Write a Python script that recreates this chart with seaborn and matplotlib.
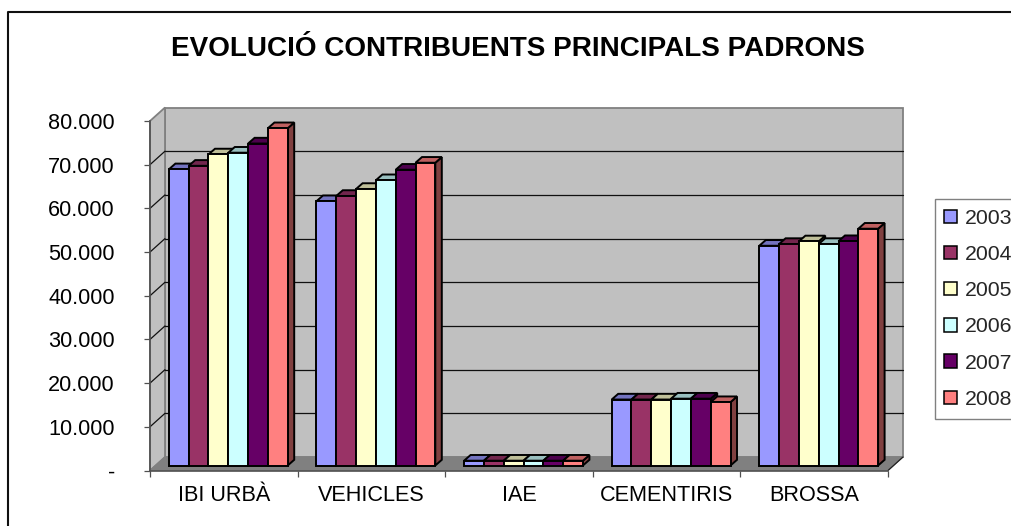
import matplotlib
matplotlib.use("Agg")
import matplotlib.pyplot as plt
from matplotlib.patches import Polygon
from matplotlib.lines import Line2D
from matplotlib.colors import to_rgb
import pandas as pd
import seaborn as sns

categories = ["IBI URBÀ", "VEHICLES", "IAE", "CEMENTIRIS", "BROSSA"]
years = ["2003", "2004", "2005", "2006", "2007", "2008"]
v2003 = [67800, 60500, 1100, 15100, 50300]
v2004 = [68600, 61700, 1100, 15100, 50700]
v2005 = [71200, 63300, 1100, 15100, 51300]
v2006 = [71600, 65300, 1100, 15300, 50700]
v2007 = [73700, 67700, 1100, 15300, 51350]
v2008 = [77200, 69300, 1100, 14500, 54200]
colors = ["#9999FF", "#993366", "#FFFFCC", "#CCFFFF", "#660066", "#FF8080"]
ytick_values = [0, 10000, 20000, 30000, 40000, 50000, 60000, 70000, 80000]
ytick_labels = ["-", "10.000", "20.000", "30.000", "40.000", "50.000", "60.000", "70.000", "80.000"]
title = "EVOLUCIÓ CONTRIBUENTS PRINCIPALS PADRONS"

W, H = 1012, 526
sns.set_style("white")
plt.rcParams["font.family"] = ["Liberation Sans", "DejaVu Sans"]

series = [v2003, v2004, v2005, v2006, v2007, v2008]
df = pd.DataFrame(
    [{"cat": c, "year": y, "value": s[i]}
     for y, s in zip(years, series) for i, c in enumerate(categories)]
)

fig = plt.figure(figsize=(W / 100, H / 100), dpi=100, facecolor="white")
L, R, T, B = 150.0, 888.0, 121.0, 470.5
ax = fig.add_axes([L / W, 1 - B / H, (R - L) / W, (B - T) / H])

BAR_LW = 1.4
sns.barplot(data=df, x="cat", y="value", hue="year", hue_order=years, order=categories,
            palette=colors, width=0.805, gap=0, saturation=1, errorbar=None,
            edgecolor="black", linewidth=BAR_LW, ax=ax)
ax.set_xlim(-0.5, 4.5)
ax.set_ylim(0, 80000)
ax.set_xlabel("")
ax.set_ylabel("")
ax.patch.set_alpha(0)

xpp = 5 / (R - L)      # category units per pixel
ypp = 80000 / (B - T)  # value units per pixel


def shade(c, f):
    return tuple(x * f for x in to_rgb(c))


# walls and floor, in the axes' own scales
wx, wy = 15 * xpp, 13.5 * ypp
x0, x1 = -0.5, 4.5
wall = "#C0C0C0"
edge = "#808080"
ax.add_patch(Polygon([(x0 + wx, wy), (x1 + wx, wy), (x1 + wx, 80000 + wy), (x0 + wx, 80000 + wy)],
                     fc=wall, ec=edge, lw=1.3, clip_on=False, zorder=1))
ax.add_patch(Polygon([(x0, 0), (x0 + wx, wy), (x0 + wx, 80000 + wy), (x0, 80000)],
                     fc=wall, ec=edge, lw=1.3, clip_on=False, zorder=1))
ax.add_patch(Polygon([(x0, 0), (x1, 0), (x1 + wx, wy), (x0 + wx, wy)],
                     fc="#808080", ec="#808080", lw=0.8, clip_on=False, zorder=1.5))
ax.plot([x1, x1 + wx], [0, wy], color="#202020", lw=0.9, clip_on=False, zorder=1.6)
for v in ytick_values[1:-1]:
    ax.plot([x0 + wx, x1 + wx], [v + wy, v + wy], color="#101010", lw=0.9, clip_on=False, zorder=2)
    ax.plot([x0, x0 + wx], [v, v + wy], color="#101010", lw=0.9, clip_on=False, zorder=2)

# 3D bars: front faces come from seaborn, shifted into the depth of the box
ox, oy = 4.5 * xpp, 5.0 * ypp
dx, dy = 6.5 * xpp, 5.7 * ypp
bars = sorted([p for c in ax.containers for p in c], key=lambda p: p.get_x())
for k, p in enumerate(bars):
    xa = p.get_x() + ox
    xb = xa + p.get_width()
    h = p.get_height()
    fc = p.get_facecolor()
    z = 3 + k * 0.1
    p.set_x(xa)
    p.set_y(oy)
    p.set_clip_on(False)
    p.set_zorder(z + 0.02)
    ax.add_patch(Polygon([(xb, oy), (xb + dx, oy + dy), (xb + dx, oy + h + dy), (xb, oy + h)],
                         fc=shade(fc[:3], 0.5), ec="black", lw=BAR_LW, clip_on=False, zorder=z))
    ax.add_patch(Polygon([(xa, oy + h), (xb, oy + h), (xb + dx, oy + h + dy), (xa + dx, oy + h + dy)],
                         fc=shade(fc[:3], 0.75), ec="black", lw=BAR_LW, clip_on=False, zorder=z + 0.01))

# axes
sns.despine(ax=ax, top=True, right=True)
for s in ("left", "bottom"):
    ax.spines[s].set_color("#505050")
    ax.spines[s].set_linewidth(1.2)
    ax.spines[s].set_zorder(2.5)
ax.set_yticks(ytick_values)
ax.set_yticklabels(ytick_labels)
ax.tick_params(axis="y", length=4.3, width=0.9, color="#505050", pad=21, labelsize=15.6,
               left=True, labelcolor="black")
ax.set_xticks(range(len(categories)))
ax.set_xticklabels(categories)
ax.set_xticks([i - 0.5 for i in range(len(categories) + 1)], minor=True)
ax.tick_params(axis="x", which="major", length=0, pad=10.5, labelsize=15.6, labelcolor="black")
ax.tick_params(axis="x", which="minor", length=4.3, width=0.9, color="#505050", bottom=True)

# legend
sns.move_legend(ax, "upper left", bbox_to_anchor=(934.5 / W, 1 - 199 / H),
                bbox_transform=fig.transFigure, title=None, frameon=True, fancybox=False,
                edgecolor="#808080", framealpha=1, fontsize=15.3, borderaxespad=0,
                borderpad=0.46, labelspacing=0.81, handlelength=0.6, handleheight=0.6,
                handletextpad=0.36)
leg = ax.get_legend()
leg.get_frame().set_linewidth(1.0)
leg.set_zorder(20)
for h in leg.legend_handles:
    h.set_edgecolor("black")
    h.set_linewidth(1.1)

# title and chart frame
fig.text(517.5 / W, 1 - 48.5 / H, title, ha="center", va="center", fontsize=20.05,
         fontweight="bold", color="black")
fig.add_artist(Line2D([8 / W, 8 / W, 1], [0, 1 - 12 / H, 1 - 12 / H],
                      color="#101010", lw=1.5, transform=fig.transFigure))

fig.savefig("out.png", dpi=100)
